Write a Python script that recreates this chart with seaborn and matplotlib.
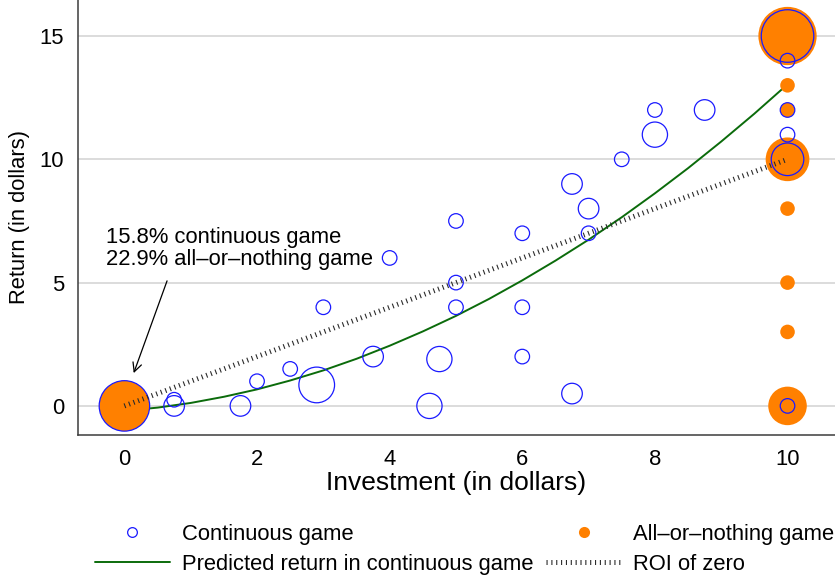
import matplotlib
matplotlib.use("Agg")
import matplotlib.pyplot as plt
from matplotlib.lines import Line2D
import pandas as pd
import seaborn as sns

# -------------------------
# Data
# -------------------------
cont_x = [0, 0.75, 0.75, 1.75, 2, 2.5, 2.9, 3, 3.75, 4, 4.6, 4.75, 5, 5, 5,
          6, 6, 6, 6.75, 6.75, 7, 7, 7.5, 8, 8, 8.75, 10, 10, 10, 10, 10, 10]
cont_y = [0, 0.25, 0, 0, 1, 1.5, 0.85, 4, 2, 6, 0, 1.9, 7.5, 5, 4,
          7, 4, 2, 0.5, 9, 8, 7, 10, 12, 11, 12, 15, 14, 12, 11, 10, 0]
cont_n = [12, 1, 2, 2, 1, 1, 6, 1, 2, 1, 3, 3, 1, 1, 1,
          1, 1, 1, 2, 2, 2, 1, 1, 1, 3, 2, 13, 1, 1, 1, 5, 1]

aon_x = [0, 10, 10, 10, 10, 10, 10, 10, 10]
aon_y = [0, 15, 13, 12, 10, 8, 5, 3, 0]
aon_n = [12, 16, 1, 1, 9, 1, 1, 1, 7]

pred_x = [0, 0.5, 1, 1.5, 2, 2.5, 3, 3.5, 4, 4.5, 5,
          5.5, 6, 6.5, 7, 7.5, 8, 8.5, 9, 9.5, 10]
pred_y = [-0.2, -0.07, 0.12, 0.37, 0.67, 1.03, 1.44, 1.91, 2.44, 3.02, 3.65,
          4.34, 5.09, 5.89, 6.74, 7.65, 8.62, 9.64, 10.72, 11.85, 13.04]

roi_x = [0, 10]
roi_y = [0, 10]

x_ticks = [0, 2, 4, 6, 8, 10]
y_ticks = [0, 5, 10, 15]

note_text = "15.8% continuous game\n22.9% all–or–nothing game"
note_pos = (-0.28, 5.72)
arrow_tail = (0.643, 5.07)
arrow_tip = (0.14, 1.33)

BLUE = "#1a1aff"
ORANGE = "#ff8000"
GREEN = "#0b6b0b"
ROI_C = "#2a2a2a"
AX_C = "#3c3c3c"

cont = pd.DataFrame({"x": cont_x, "y": cont_y, "n": cont_n})
aon = pd.DataFrame({"x": aon_x, "y": aon_y, "n": aon_n})
pred = pd.DataFrame({"x": pred_x, "y": pred_y})
roi = pd.DataFrame({"x": roi_x, "y": roi_y})

# -------------------------
# Style
# -------------------------
sns.set_style("white")
plt.rcParams["font.family"] = ["Liberation Sans", "DejaVu Sans"]
plt.rcParams["text.color"] = "black"
plt.rcParams["axes.labelcolor"] = "black"

FS = 15.8
K = 110  # marker area per observation (pt^2)
n_all = cont_n + aon_n
n_lo, n_hi = min(n_all), max(n_all)

fig = plt.figure(figsize=(8.35, 5.76), dpi=100)
ax = fig.add_axes([78 / 835, 141 / 576, 1 - 78 / 835, 435 / 576])

# -------------------------
# Plot
# -------------------------
sns.lineplot(data=pred, x="x", y="y", color=GREEN, linewidth=1.4,
             ax=ax, zorder=2)

sns.scatterplot(data=aon, x="x", y="y", size="n",
                sizes=(K * n_lo, K * n_hi), size_norm=(n_lo, n_hi),
                color=ORANGE, edgecolor="none", linewidth=0,
                legend=False, ax=ax, zorder=3)

sns.scatterplot(data=cont, x="x", y="y", size="n",
                sizes=(K * n_lo, K * n_hi), size_norm=(n_lo, n_hi),
                facecolor="none", edgecolor=BLUE, linewidth=0.9,
                legend=False, ax=ax, zorder=4)

roi_style = (0, (0.22, 0.75))
sns.lineplot(data=roi, x="x", y="y", color=ROI_C, linewidth=3.6,
             linestyle=roi_style, ax=ax, zorder=5)
ax.lines[-1].set_dash_capstyle("butt")

# -------------------------
# Axes
# -------------------------
ax.set_xlim(-0.70, 10.716)
ax.set_ylim(-1.18, 16.46)
ax.set_xticks(x_ticks)
ax.set_yticks(y_ticks)
ax.tick_params(axis="both", labelsize=FS, length=6.5, width=1.0,
               color=AX_C, labelcolor="black", pad=3.6, direction="out")
ax.yaxis.grid(True, color="#dcdcdc", linewidth=1.4, zorder=0)
ax.xaxis.grid(False)
ax.set_axisbelow(True)
for side in ["top", "right"]:
    ax.spines[side].set_visible(False)
for side in ["left", "bottom"]:
    ax.spines[side].set_color(AX_C)
    ax.spines[side].set_linewidth(1.1)

ax.set_xlabel("Investment (in dollars)", fontsize=19, labelpad=1)
ax.set_ylabel("Return (in dollars)", fontsize=FS, labelpad=7)

# annotation: text + separate arrow
ax.text(note_pos[0], note_pos[1], note_text, fontsize=FS, ha="left",
        va="baseline", linespacing=1.08, zorder=6)
ax.annotate("", xy=arrow_tip, xytext=arrow_tail,
            arrowprops=dict(arrowstyle="->", color="black", lw=0.9,
                            mutation_scale=16, shrinkA=0, shrinkB=0))

# -------------------------
# Legend
# -------------------------
handles = [
    Line2D([], [], marker="o", markerfacecolor="none", markeredgecolor=BLUE,
           markeredgewidth=0.9, markersize=7, linestyle="none"),
    Line2D([], [], color=GREEN, linewidth=1.4),
    Line2D([], [], marker="o", markerfacecolor=ORANGE, markeredgecolor="none",
           markersize=8, linestyle="none"),
    Line2D([], [], color=ROI_C, linewidth=3.6, linestyle=roi_style,
           dash_capstyle="butt"),
]
labels = ["Continuous game", "Predicted return in continuous game",
          "All–or–nothing game", "ROI of zero"]
fig.legend(handles, labels, ncol=2, loc="upper left",
           bbox_to_anchor=(95 / 835, 1 - 524 / 576), frameon=False,
           fontsize=FS, borderpad=0, borderaxespad=0, handlelength=3.4,
           handletextpad=0.55, columnspacing=0.6, labelspacing=0.39)

fig.savefig("out.png", dpi=100)
